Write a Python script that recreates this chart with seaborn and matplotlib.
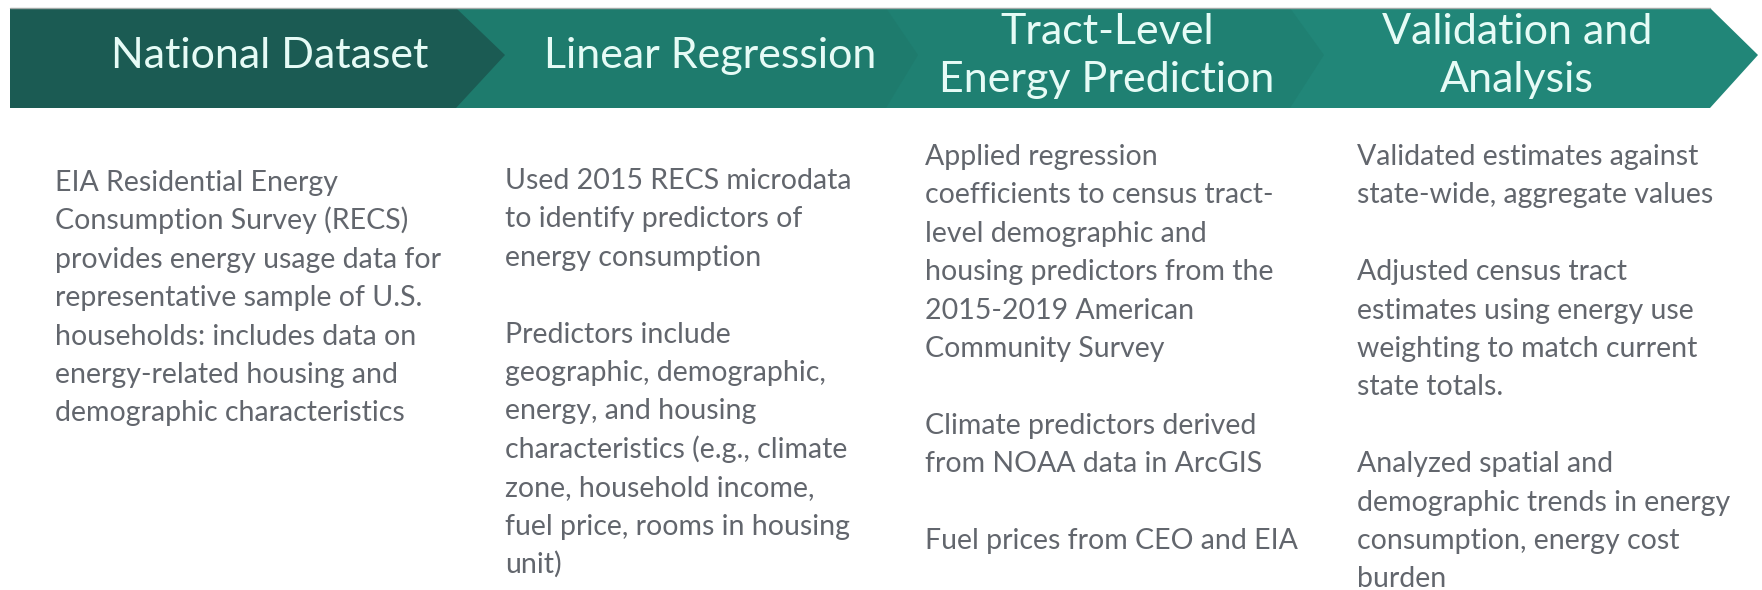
import matplotlib
matplotlib.use("Agg")
import matplotlib.pyplot as plt
from matplotlib.patches import Polygon
import seaborn as sns

# steps of the process
steps = ["National Dataset", "Linear Regression",
         "Tract-Level\nEnergy Prediction", "Validation and\nAnalysis"]

col1 = ["EIA Residential Energy", "Consumption Survey (RECS)",
        "provides energy usage data for", "representative sample of U.S.",
        "households: includes data on", "energy-related housing and",
        "demographic characteristics"]
col2 = ["Used 2015 RECS microdata", "to identify predictors of",
        "energy consumption", "", "Predictors include",
        "geographic, demographic,", "energy, and housing",
        "characteristics (e.g., climate", "zone, household income,",
        "fuel price, rooms in housing", "unit)"]
col3 = ["Applied regression", "coefficients to census tract-",
        "level demographic and", "housing predictors from the",
        "2015-2019 American", "Community Survey", "",
        "Climate predictors derived", "from NOAA data in ArcGIS", "",
        "Fuel prices from CEO and EIA"]
col4 = ["Validated estimates against", "state-wide, aggregate values", "",
        "Adjusted census tract", "estimates using energy use",
        "weighting to match current", "state totals.", "",
        "Analyzed spatial and", "demographic trends in energy",
        "consumption, energy cost", "burden"]
columns = [col1, col2, col3, col4]

sns.set_style("white")
plt.rcParams["font.family"] = ["Lato", "DejaVu Sans"]

fig = plt.figure(figsize=(17.62, 5.9), dpi=100)
ax = fig.add_axes([0, 0, 1, 1])
ax.set_xlim(0, 1762)
ax.set_ylim(590, 0)
ax.axis("off")

# chevron band
starts = [10, 456, 886, 1290]
ends = [456, 886, 1290, 1710]
fills = ["#1b5b53", "#1e7b6d", "#1f8072", "#218678"]
top, mid, bot = 8, 55, 108
tips = [49, 32, 34, 48]
for i in reversed(range(4)):
    x0, x1 = starts[i], ends[i]
    pts = [(x0, top), (x1, top), (x1 + tips[i], mid), (x1, bot), (x0, bot)]
    ax.add_patch(Polygon(pts, closed=True, facecolor=fills[i], edgecolor="none"))
ax.plot([10, 1710], [top, top], color="#a3aaa8", lw=1.0)

title_x = [270, 710, 1107, 1517]
for t, x in zip(steps, title_x):
    ax.text(x, 56, t, ha="center", va="center", color="#e6fbf6",
            fontsize=31, linespacing=1.3)

text_x = [55, 505, 925, 1357]
text_y = [191, 189, 165, 165]
for lines, x, y in zip(columns, text_x, text_y):
    for k, line in enumerate(lines):
        ax.text(x, y + k * 38.4, line, ha="left", va="baseline",
                color="#62666d", fontsize=20.5)

fig.savefig("out.png", dpi=100)
